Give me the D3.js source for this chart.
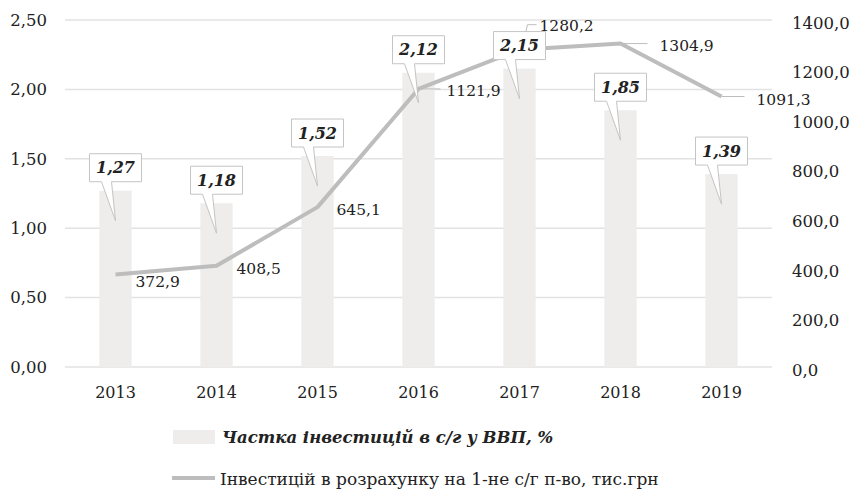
<!DOCTYPE html>
<html>
<head>
<meta charset="utf-8">
<script src="https://cdn.jsdelivr.net/npm/d3@7"></script>
<style>
  body { margin: 0; background: #fff; }
  text { font-family: "DejaVu Serif", serif; fill: #222; }
</style>
</head>
<body>
<div id="chart-area"></div>
<script>
const years = ['2013', '2014', '2015', '2016', '2017', '2018', '2019'];
const shareGdp = [1.27, 1.18, 1.52, 2.12, 2.15, 1.85, 1.39];
const perFarm = [372.9, 408.5, 645.1, 1121.9, 1280.2, 1304.9, 1091.3];
const leftTicks = [0, 0.5, 1, 1.5, 2, 2.5];
const rightTicks = [0, 200, 400, 600, 800, 1000, 1200, 1400];
const barLegend = 'Частка інвестицій в с/г у ВВП, %';
const lineLegend = 'Інвестицій в розрахунку на 1-не с/г п-во, тис.грн';

const margins = { top: 20, right: 80, bottom: 125, left: 65 };
const width = 852 - margins.left - margins.right;
const height = 492 - margins.top - margins.bottom;

const fmt = (d, n) => d.toFixed(n).replace('.', ',');

const svg = d3.select('#chart-area')
  .append('svg')
  .attr('width', 852)
  .attr('height', 492);

const g = svg.append('g')
  .attr('transform', 'translate(' + margins.left + ', ' + margins.top + ')');

const x = d3.scaleBand()
  .domain(years)
  .range([0, width])
  .paddingInner(0.68)
  .paddingOuter(0.34);

const yLeft = d3.scaleLinear().domain([0, 2.5]).range([height, 0]);
const yRight = d3.scaleLinear().domain([0, 1400]).range([height, 0]);

// grid
g.selectAll('.grid')
  .data(leftTicks)
  .enter()
  .append('line')
  .attr('x1', 0)
  .attr('x2', width)
  .attr('y1', (d) => yLeft(d))
  .attr('y2', (d) => yLeft(d))
  .attr('stroke', '#e2e2e2')
  .attr('stroke-width', 1.5);

// left axis
const leftAxis = g.append('g')
  .call(d3.axisLeft(yLeft).tickValues(leftTicks).tickSize(0).tickPadding(18)
    .tickFormat((d) => fmt(d, 2)));
leftAxis.select('.domain').remove();
leftAxis.selectAll('text').attr('font-size', '16.5px').attr('font-family', 'DejaVu Serif');

// right axis
const rightAxis = g.append('g')
  .attr('transform', 'translate(' + width + ', 0)')
  .call(d3.axisRight(yRight).tickValues(rightTicks).tickSize(0).tickPadding(20)
    .tickFormat((d) => fmt(d, 1)));
rightAxis.select('.domain').remove();
rightAxis.selectAll('text').attr('font-size', '16.5px').attr('font-family', 'DejaVu Serif')
  .attr('dy', '0.5em');

// bottom axis
const bottomAxis = g.append('g')
  .attr('transform', 'translate(0, ' + height + ')')
  .call(d3.axisBottom(x).tickSize(0).tickPadding(20));
bottomAxis.select('.domain').remove();
bottomAxis.selectAll('text').attr('font-size', '16px').attr('font-family', 'DejaVu Serif');

// bars
g.selectAll('rect.bar')
  .data(shareGdp)
  .enter()
  .append('rect')
  .attr('class', 'bar')
  .attr('x', (d, i) => x(years[i]))
  .attr('y', (d) => yLeft(d))
  .attr('width', x.bandwidth())
  .attr('height', (d) => height - yLeft(d))
  .attr('fill', '#efedeb');

// line
const line = d3.line()
  .x((d, i) => x(years[i]) + x.bandwidth() / 2)
  .y((d) => yRight(d));

g.append('path')
  .datum(perFarm)
  .attr('d', line)
  .attr('fill', 'none')
  .attr('stroke', '#bdbdbd')
  .attr('stroke-width', 4)
  .attr('stroke-linejoin', 'round');

// line labels (offsets from point, leader lengths)
const lineLabelPos = [
  { dx: 20, dy: 8, leader: null },
  { dx: 20, dy: 4, leader: null },
  { dx: 19, dy: 4, leader: null },
  { dx: 28, dy: 3, leader: [[2, 0], [22, 0]] },
  { dx: 20, dy: -23, leader: [[3, -3], [8, -25], [17, -25]] },
  { dx: 39, dy: 3, leader: [[2, 0], [27, 0]] },
  { dx: 35, dy: 4, leader: [[0, 0], [23, 0]] }
];

perFarm.forEach((v, i) => {
  const px = x(years[i]) + x.bandwidth() / 2;
  const py = yRight(v);
  const p = lineLabelPos[i];
  if (p.leader) {
    g.append('path')
      .attr('d', d3.line()(p.leader.map((q) => [px + q[0], py + q[1]])))
      .attr('fill', 'none')
      .attr('stroke', '#bdbdbd')
      .attr('stroke-width', 1);
  }
  g.append('text')
    .attr('x', px + p.dx)
    .attr('y', py + p.dy)
    .attr('dominant-baseline', 'middle')
    .attr('font-size', '15.5px')
    .text(fmt(v, 1));
});

// bar callouts
shareGdp.forEach((v, i) => {
  const cx = x(years[i]) + x.bandwidth() / 2;
  const top = yLeft(v);
  const bw = 52, bh = 28;
  const bx = cx - bw / 2, by = top - 9 - bh;
  const tipY = top + 30;
  const path = d3.path();
  path.moveTo(bx, by);
  path.lineTo(bx + bw, by);
  path.lineTo(bx + bw, by + bh);
  path.lineTo(cx - 4, by + bh);
  path.lineTo(cx, tipY);
  path.lineTo(cx - 14, by + bh);
  path.lineTo(bx, by + bh);
  path.closePath();
  g.append('path')
    .attr('d', path.toString())
    .attr('fill', '#fff')
    .attr('stroke', '#c4c4c4')
    .attr('stroke-width', 1);
  g.append('text')
    .attr('x', cx)
    .attr('y', by + bh / 2 + 1)
    .attr('text-anchor', 'middle')
    .attr('dominant-baseline', 'middle')
    .attr('font-size', '16px')
    .attr('font-weight', 'bold')
    .attr('font-style', 'italic')
    .text(fmt(v, 2));
});

// legend
const legend = svg.append('g');
legend.append('rect')
  .attr('x', 173)
  .attr('y', 430)
  .attr('width', 42)
  .attr('height', 14)
  .attr('fill', '#efedeb');
legend.append('text')
  .attr('x', 222)
  .attr('y', 438)
  .attr('dominant-baseline', 'middle')
  .attr('font-size', '16.5px')
  .attr('font-weight', 'bold')
  .attr('font-style', 'italic')
  .text(barLegend);
legend.append('line')
  .attr('x1', 172)
  .attr('x2', 215)
  .attr('y1', 478)
  .attr('y2', 478)
  .attr('stroke', '#bdbdbd')
  .attr('stroke-width', 4);
legend.append('text')
  .attr('x', 220)
  .attr('y', 480)
  .attr('dominant-baseline', 'middle')
  .attr('font-size', '17px')
  .text(lineLegend);
</script>
</body>
</html>
